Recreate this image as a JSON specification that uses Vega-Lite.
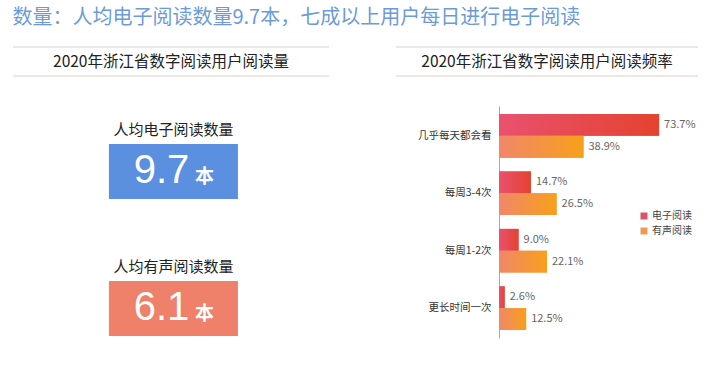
{
  "$schema": "https://vega.github.io/schema/vega-lite/v6.json",
  "background": "white",
  "padding": {"left": 12, "top": 8, "right": 0, "bottom": 0},
  "config": {
    "view": {"stroke": null},
    "font": "Noto Sans CJK SC",
    "text": {"font": "Noto Sans CJK SC"}
  },
  "title": {
    "text": "数量：人均电子阅读数量9.7本，七成以上用户每日进行电子阅读",
    "anchor": "start",
    "fontSize": 20,
    "fontWeight": "normal",
    "color": "#6b9bd8",
    "font": "Noto Sans CJK SC",
    "offset": 18
  },
  "datasets": {
    "perCapita": [
      {"item": "人均电子阅读数量", "value": 9.7, "unit": "本"},
      {"item": "人均有声阅读数量", "value": 6.1, "unit": "本"}
    ],
    "freq": [
      {"freq": "几乎每天都会看", "type": "电子阅读", "pct": 0.737},
      {"freq": "几乎每天都会看", "type": "有声阅读", "pct": 0.389},
      {"freq": "每周3-4次", "type": "电子阅读", "pct": 0.147},
      {"freq": "每周3-4次", "type": "有声阅读", "pct": 0.265},
      {"freq": "每周1-2次", "type": "电子阅读", "pct": 0.090},
      {"freq": "每周1-2次", "type": "有声阅读", "pct": 0.221},
      {"freq": "更长时间一次", "type": "电子阅读", "pct": 0.026},
      {"freq": "更长时间一次", "type": "有声阅读", "pct": 0.125}
    ]
  },
  "spacing": 29,
  "resolve": {"scale": {"color": "independent"}, "legend": {"color": "independent"}},
  "vconcat": [
    {
      "spacing": 65,
      "hconcat": [
        {
          "width": 316,
          "height": 29,
          "data": {"values": [{"header": "2020年浙江省数字阅读用户阅读量"}]},
          "layer": [
            {"mark": {"type": "rule", "stroke": "#e2cec8", "strokeWidth": 1.2}, "encoding": {"y": {"datum": 0, "type": "quantitative", "scale": {"domain": [0, 1]}, "axis": null}}},
            {"mark": {"type": "rule", "stroke": "#ddd0cf", "strokeWidth": 1.2}, "encoding": {"y": {"datum": 1, "type": "quantitative", "axis": null}}},
            {"mark": {"type": "text", "fontSize": 15.5, "color": "#222", "baseline": "middle"}, "encoding": {"y": {"datum": 0.5, "type": "quantitative", "axis": null}, "text": {"field": "header"}}}
          ]
        },
        {
          "width": 302,
          "height": 29,
          "data": {"values": [{"header": "2020年浙江省数字阅读用户阅读频率"}]},
          "layer": [
            {"mark": {"type": "rule", "stroke": "#e2cec8", "strokeWidth": 1.2}, "encoding": {"y": {"datum": 0, "type": "quantitative", "scale": {"domain": [0, 1]}, "axis": null}}},
            {"mark": {"type": "rule", "stroke": "#ddd0cf", "strokeWidth": 1.2}, "encoding": {"y": {"datum": 1, "type": "quantitative", "axis": null}}},
            {"mark": {"type": "text", "fontSize": 15.5, "color": "#222", "baseline": "middle"}, "encoding": {"y": {"datum": 0.5, "type": "quantitative", "axis": null}, "text": {"field": "header"}}}
          ]
        }
      ]
    },
    {
      "spacing": 65,
      "resolve": {"scale": {"color": "independent"}, "legend": {"color": "independent"}},
      "hconcat": [
        {
          "width": 316,
          "height": 268,
          "data": {"name": "perCapita"},
          "encoding": {
            "y": {"field": "item", "type": "nominal", "sort": null, "axis": null, "scale": {"paddingInner": 0.599, "paddingOuter": 0.2775}},
            "x": {"field": "unit", "type": "nominal", "axis": null, "scale": {"paddingInner": 0, "paddingOuter": 0.7248, "align": 0.513}}
          },
          "layer": [
            {"mark": {"type": "bar"}, "encoding": {"color": {"field": "item", "type": "nominal", "sort": null, "scale": {"range": ["#5b8fe0", "#ef806a"]}, "legend": null}}},
            {"mark": {"type": "text", "dy": -41.5, "fontSize": 15, "color": "#222", "baseline": "middle"}, "encoding": {"text": {"field": "item"}}},
            {"mark": {"type": "text", "dx": -12, "dy": 11.5, "fontSize": 40, "font": "Liberation Sans", "color": "white", "baseline": "alphabetic"}, "encoding": {"text": {"field": "value", "format": ".1f"}}},
            {"mark": {"type": "text", "dx": 31, "dy": 11.5, "fontSize": 19, "fontWeight": "bold", "color": "white", "baseline": "alphabetic"}, "encoding": {"text": {"field": "unit"}}}
          ]
        },
        {
          "width": 202,
          "height": 232,
          "data": {"name": "freq"},
          "encoding": {
            "y": {"field": "freq", "type": "nominal", "sort": null, "scale": {"paddingInner": 0.24, "paddingOuter": 0.14},
                  "axis": {"title": null, "ticks": false, "labelPadding": 8, "labelFontSize": 10.5, "labelColor": "#333", "domainColor": "#aaa", "minExtent": 105, "maxExtent": 105}},
            "yOffset": {"field": "type", "type": "nominal", "sort": ["电子阅读", "有声阅读"]},
            "x": {"field": "pct", "type": "quantitative", "scale": {"domain": [0, 0.93]}, "axis": null}
          },
          "layer": [
            {"mark": {"type": "bar"}, "encoding": {"color": {"field": "type", "type": "nominal", "sort": ["电子阅读", "有声阅读"], "scale": {"range": ["#d9536a", "#ee9a55"]},
              "legend": {"title": null, "orient": "none", "legendX": 140, "legendY": 105, "symbolType": "square", "symbolSize": 49, "symbolStrokeWidth": 0, "labelFontSize": 10, "labelColor": "#444", "rowPadding": 5, "labelOffset": 3, "padding": 0}}}},
            {"transform": [{"filter": "datum.type === '电子阅读'"}], "mark": {"type": "bar", "fill": {"gradient": "linear", "x1": 0, "x2": 1, "y1": 0, "y2": 0, "stops": [{"offset": 0, "color": "#e9516f"}, {"offset": 1, "color": "#e4432f"}]}}},
            {"transform": [{"filter": "datum.type === '有声阅读'"}], "mark": {"type": "bar", "fill": {"gradient": "linear", "x1": 0, "x2": 1, "y1": 0, "y2": 0, "stops": [{"offset": 0, "color": "#f0876a"}, {"offset": 1, "color": "#f7a01a"}]}}},
            {"mark": {"type": "text", "align": "left", "dx": 5, "baseline": "middle", "fontSize": 11, "color": "#666"}, "encoding": {"text": {"field": "pct", "format": ".1%"}}}
          ]
        }
      ]
    }
  ]
}
